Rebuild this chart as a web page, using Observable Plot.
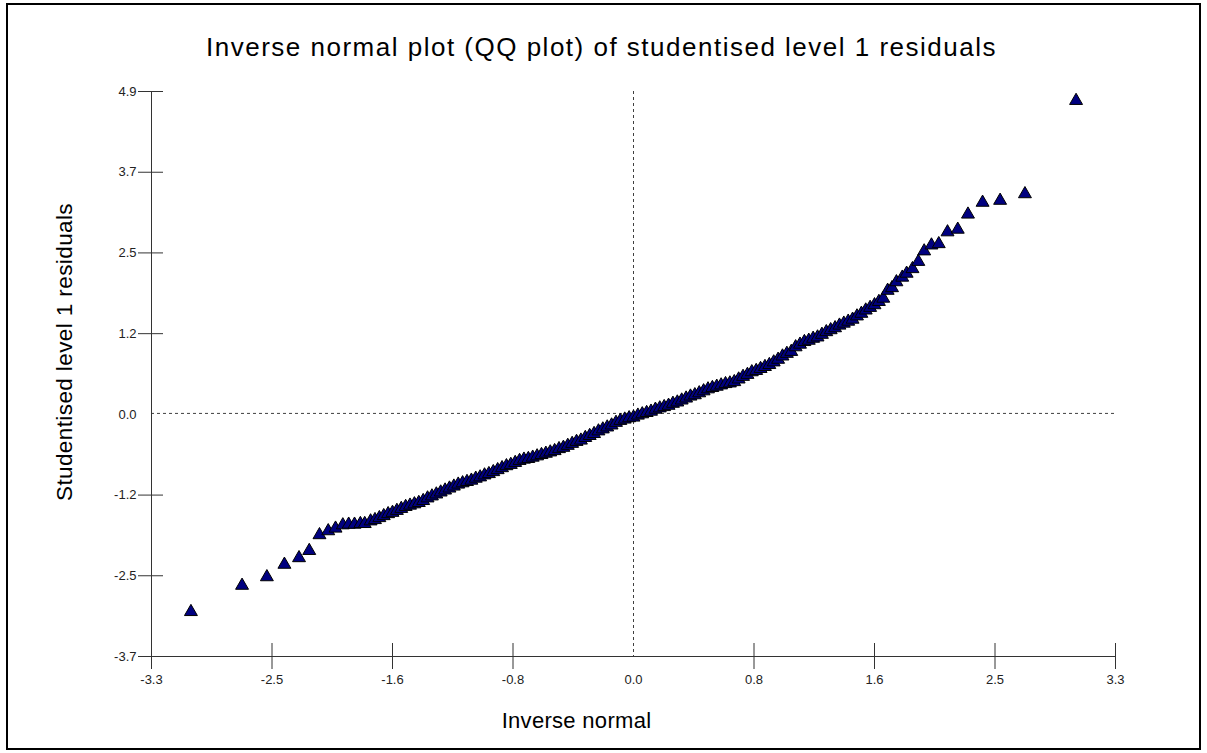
<!DOCTYPE html>
<html>
<head>
<meta charset="utf-8">
<script src="https://cdn.jsdelivr.net/npm/d3@7"></script>
<script src="https://cdn.jsdelivr.net/npm/@observablehq/plot@0.6"></script>
<style>
  html, body { margin: 0; padding: 0; background: #fff; }
  #wrap { position: relative; width: 1207px; height: 753px; }
  #wrap svg { position: absolute; left: 0; top: 0; }
  #border { position: absolute; left: 6px; top: 3px; width: 1195px; height: 747px;
            box-sizing: border-box; border: 2px solid #000; pointer-events: none; }
</style>
</head>
<body>
<div id="wrap"><div id="border"></div></div>
<script>
// Inverse normal scores (x) and studentised level 1 residuals (y), sorted by rank
const qx = [
  -3.03, -2.68, -2.51, -2.39, -2.29, -2.22, -2.15, -2.09, -2.04, -1.99, -1.95, -1.91, -1.87, -1.84, -1.80, -1.77,
  -1.74, -1.71, -1.68, -1.65, -1.62, -1.59, -1.56, -1.53, -1.50, -1.47,
  -1.44, -1.41, -1.38, -1.35, -1.32, -1.29, -1.26, -1.23, -1.20, -1.17,
  -1.14, -1.11, -1.08, -1.05, -1.02, -0.99, -0.96, -0.93, -0.90, -0.87,
  -0.84, -0.81, -0.78, -0.75, -0.72, -0.69, -0.66, -0.63, -0.60, -0.57,
  -0.54, -0.51, -0.48, -0.45, -0.42, -0.39, -0.36, -0.33, -0.30, -0.27,
  -0.24, -0.21, -0.18, -0.15, -0.12, -0.09, -0.06, -0.03, 0.00, 0.03,
  0.06, 0.09, 0.12, 0.15, 0.18, 0.21, 0.24, 0.27, 0.30, 0.33,
  0.36, 0.39, 0.42, 0.45, 0.48, 0.51, 0.54, 0.57, 0.60, 0.63,
  0.66, 0.69, 0.72, 0.75, 0.78, 0.81, 0.84, 0.87, 0.90, 0.93,
  0.96, 0.99, 1.02, 1.05, 1.08, 1.11, 1.14, 1.17, 1.20, 1.23,
  1.26, 1.29, 1.32, 1.35, 1.38, 1.41, 1.44, 1.47, 1.50, 1.53,
  1.56, 1.59, 1.62, 1.65, 1.68,
  1.71, 1.74, 1.77, 1.80, 1.84, 1.87, 1.91, 1.95, 1.99, 2.04, 2.09, 2.15, 2.22, 2.29, 2.39, 2.51, 2.68, 3.03
];
const qy = [
  -3.02, -2.62, -2.49, -2.30, -2.20, -2.09, -1.85, -1.79, -1.75, -1.70, -1.69, -1.69, -1.68, -1.68, -1.64, -1.62,
  -1.59, -1.56, -1.53, -1.51, -1.48, -1.45, -1.42, -1.40, -1.38, -1.36,
  -1.33, -1.29, -1.26, -1.23, -1.20, -1.17, -1.14, -1.11, -1.08, -1.06,
  -1.04, -1.02, -0.99, -0.97, -0.94, -0.92, -0.89, -0.86, -0.83, -0.80,
  -0.78, -0.75, -0.72, -0.70, -0.69, -0.67, -0.65, -0.63, -0.61, -0.59,
  -0.57, -0.54, -0.52, -0.49, -0.46, -0.43, -0.41, -0.37, -0.34, -0.31,
  -0.27, -0.24, -0.21, -0.18, -0.14, -0.11, -0.09, -0.07, -0.06, -0.03,
  -0.01, 0.01, 0.03, 0.06, 0.08, 0.10, 0.12, 0.15, 0.17, 0.20,
  0.23, 0.26, 0.28, 0.31, 0.34, 0.37, 0.39, 0.41, 0.43, 0.45,
  0.46, 0.48, 0.52, 0.56, 0.59, 0.63, 0.65, 0.68, 0.71, 0.74,
  0.78, 0.82, 0.87, 0.91, 0.94, 1.01, 1.05, 1.09, 1.11, 1.14,
  1.16, 1.20, 1.24, 1.27, 1.30, 1.34, 1.37, 1.40, 1.43, 1.48,
  1.52, 1.57, 1.61, 1.65, 1.70,
  1.75, 1.87, 1.91, 2.00, 2.07, 2.13, 2.20, 2.31, 2.47, 2.56, 2.58, 2.76, 2.80, 3.03, 3.21, 3.24, 3.34, 4.76
];

// Axis ticks: evenly spaced between the range ends, labelled to one decimal
const xTicks = [-3.3, -2.475, -1.65, -0.825, 0, 0.825, 1.65, 2.475, 3.3];
const xTickLabels = ["-3.3", "-2.5", "-1.6", "-0.8", "0.0", "0.8", "1.6", "2.5", "3.3"];
const yTicks = [-3.7, -2.471, -1.243, -0.014, 1.214, 2.443, 3.671, 4.9];
const yTickLabels = ["-3.7", "-2.5", "-1.2", "0.0", "1.2", "2.5", "3.7", "4.9"];

const titleText = "Inverse normal plot (QQ plot) of studentised level 1 residuals";
const xLabel = "Inverse normal";
const yLabel = "Studentised level 1 residuals";

const points = qx.map((x, i) => ({x, y: qy[i]}));
const xMin = xTicks[0], yMin = yTicks[0];
// the zero ticks are replaced by the dashed reference lines
const xSolidTicks = xTicks.filter(d => Math.abs(d) > 0.05);
const ySolidTicks = yTicks.filter(d => Math.abs(d) > 0.05);

const font = "'Liberation Sans', Arial, sans-serif";

const chart = Plot.plot({
  width: 1207,
  height: 753,
  marginLeft: 151,
  marginRight: 92,
  marginTop: 91,
  marginBottom: 97,
  x: {domain: [xTicks[0], xTicks[xTicks.length - 1]], axis: null},
  y: {domain: [yTicks[0], yTicks[yTicks.length - 1]], axis: null},
  style: {fontFamily: font, background: "transparent", color: "#000"},
  marks: [
    // dashed reference lines through the origin
    Plot.ruleY([0], {stroke: "#404040", strokeDasharray: "3,3", strokeWidth: 1}),
    Plot.ruleX([0], {stroke: "#404040", strokeDasharray: "3,3", strokeWidth: 1}),
    // axis lines
    Plot.ruleX([xMin], {stroke: "#333", strokeWidth: 1}),
    Plot.ruleY([yMin], {stroke: "#333", strokeWidth: 1}),
    // tick marks crossing the axes
    Plot.ruleY(ySolidTicks, {y: d => d, x1: xMin, x2: xMin, insetLeft: -13, insetRight: -12, stroke: "#333"}),
    Plot.ruleX(xSolidTicks, {x: d => d, y1: yMin, y2: yMin, insetTop: 13, insetBottom: 13, stroke: "#333"}),
    // tick labels
    Plot.text(yTicks, {x: xMin, y: d => d, text: (d, i) => yTickLabels[i], textAnchor: "end", dx: -15, fontSize: 13, fill: "#222"}),
    Plot.text(xTicks, {x: d => d, y: yMin, text: (d, i) => xTickLabels[i], lineAnchor: "top", dy: 18, fontSize: 13, fill: "#222"}),
    // residuals
    Plot.dot(points, {x: "x", y: "y", symbol: "triangle", r: 4.8, fill: "#000080", stroke: "#000", strokeWidth: 1}),
    // title and axis labels
    Plot.text([titleText], {text: d => d, frameAnchor: "top", textAnchor: "middle", lineAnchor: "bottom", dx: -32, dy: -36, fontSize: 26, fill: "#000"}),
    Plot.text([xLabel], {text: d => d, frameAnchor: "bottom", textAnchor: "middle", lineAnchor: "bottom", dx: -57, dy: 71, fontSize: 22, fill: "#000"}),
    Plot.text([yLabel], {text: d => d, frameAnchor: "left", textAnchor: "middle", lineAnchor: "bottom", rotate: -90, dx: -80, dy: -22, fontSize: 22.5, fill: "#000"})
  ]
});

const wrap = document.getElementById("wrap");
wrap.insertBefore(chart, wrap.firstChild);

// widen the label lettering a little
const spacing = new Map([[titleText, "1.5px"], [xLabel, "0.3px"], [yLabel, "0.4px"]]);
d3.select(chart).selectAll("text")
  .filter(function () { return spacing.has(this.textContent); })
  .style("letter-spacing", function () { return spacing.get(this.textContent); });
</script>
</body>
</html>
